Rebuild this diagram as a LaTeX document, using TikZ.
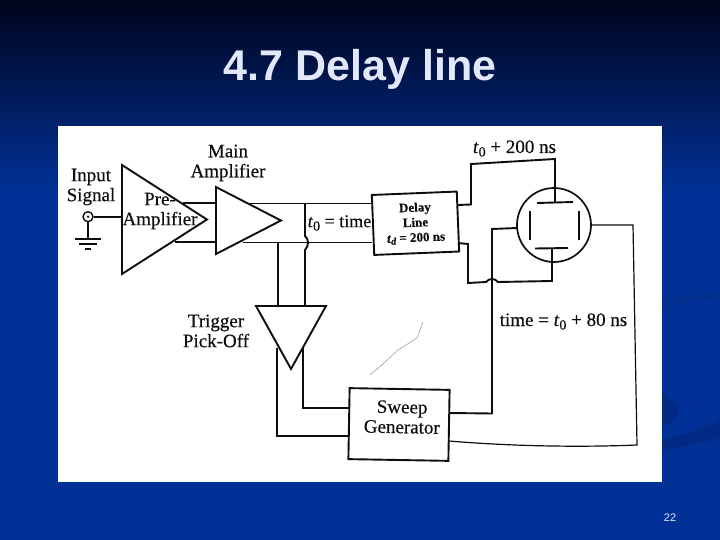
\documentclass[tikz,border=0pt]{standalone}
\usepackage{fontspec}
\setmainfont{Liberation Serif}[FakeBold=0.35]
\setsansfont{Liberation Sans}
\usetikzlibrary{shapes,arrows,positioning,calc}
\definecolor{slideblue}{RGB}{1,49,150}
\definecolor{slidetop}{RGB}{0,4,28}
\definecolor{swoosh}{RGB}{2,42,132}
\definecolor{swooshfaint}{RGB}{2,46,142}
\definecolor{titleink}{RGB}{226,232,250}
\definecolor{ink}{RGB}{14,14,14}
\newcommand{\subzero}{\raisebox{-3.5pt}{\fontsize{14}{14}\selectfont 0}}
\newcommand{\subdee}{\raisebox{-2pt}{\fontsize{10}{10}\selectfont\textit{d}}}
\tikzstyle{wire}=[draw=ink,line width=1.9pt,line join=miter]
\tikzstyle{thinwire}=[draw=ink,line width=1.2pt]
\tikzstyle{amp}=[isosceles triangle,isosceles triangle stretches,draw=ink,line width=1.9pt,inner sep=0pt]
\tikzstyle{blk}=[rectangle,draw=ink,line width=1.9pt,align=center,inner sep=0pt,text=ink]
\tikzstyle{lbl}=[align=center,inner sep=0pt,text=ink,font=\fontsize{19}{20}\selectfont]
\begin{document}
\begin{tikzpicture}[x=1pt,y=-1pt]
\useasboundingbox (0,0) rectangle (720,540);
\shade[top color=slidetop,bottom color=slideblue] (0,0) rectangle (720,190);
\fill[slideblue] (0,190) rectangle (720,540);
\fill[swooshfaint] (662,300) .. controls (680,296) and (700,294) .. (720,293) -- (720,298) .. controls (700,300) and (680,304) .. (662,308) -- cycle;
\fill[swoosh] (662,396) .. controls (672,398) and (680,406) .. (678,414) .. controls (676,420) and (668,425) .. (662,427) -- cycle;
\fill[swoosh] (662,439) .. controls (685,435) and (705,428) .. (720,420) -- (720,438) .. controls (700,443) and (680,447) .. (662,450) -- cycle;
\node[font=\sffamily\bfseries\fontsize{43}{43}\selectfont,text=titleink,inner sep=0pt] (title) at (360,69) {4.7 Delay line};
\node[font=\sffamily\fontsize{11}{11}\selectfont,text=titleink,inner sep=0pt] (pagenum) at (670,518) {22};
\fill[white] (58,126) rectangle (662,482);

\node[amp,minimum width=109pt,minimum height=85pt,anchor=lower side] (pre) at (121,219.5) {};
\node[amp,minimum width=67pt,minimum height=65pt,anchor=lower side] (main) at (215,220.5) {};
\node[amp,shape border rotate=270,minimum width=70pt,minimum height=63pt,anchor=lower side] (trig) at (291,305) {};
\node[blk,rotate=2.3,minimum width=85pt,minimum height=60pt,font=\bfseries\fontsize{13}{15}\selectfont] (delay) at (415.5,223.25) {Delay\\Line\\\textit{t}\subdee\ = 200 ns};
\node[blk,rotate=-1,minimum width=100pt,minimum height=71pt] (sweep) at (399,424.5) {};
\node[circle,draw=ink,line width=1.7pt,minimum size=74pt,inner sep=0pt] (crt) at (554,225) {};
\node[circle,draw=ink,line width=1.4pt,minimum size=10pt,inner sep=0pt] (inp) at (88,216.7) {};
\fill[ink] (inp.center) circle (1.3);

\node[lbl] (inputlbl) at (91,187) {Input\\Signal};
\node[lbl] (prelbl) at (160,211) {Pre-\\Amplifier};
\node[lbl] (mainlbl) at (228,163) {Main\\Amplifier};
\node[lbl,font=\fontsize{18}{19}\selectfont] (timelbl) at (339.5,223) {\textit{t}\subzero\ = time};
\node[lbl] (triglbl) at (216,331) {Trigger\\Pick-Off};
\node[lbl] (t200lbl) at (514.5,148.5) {\textit{t}\subzero\ + 200 ns};
\node[lbl] (t80lbl) at (563.5,321.5) {time = \textit{t}\subzero\ + 80 ns};
\node[lbl,rotate=-1] (sweeplbl) at (402,417) {Sweep\\Generator};

\coordinate (gnd) at (88,239);
\coordinate (pretop) at (183,203);
\coordinate (prebot) at (175,242);
\coordinate (maintop) at (250,203.5);
\coordinate (mainbot) at (243,242.5);
\coordinate (trigleft) at (278,305);
\coordinate (trigright) at (305,305);
\coordinate (trigoutl) at (277,348);
\coordinate (trigoutr) at (303,347);
\coordinate (topa) at (458,205);
\coordinate (topb) at (471,204.5);
\coordinate (topc) at (471,164);
\coordinate (topd) at (555,159);
\coordinate (plateT) at (555,202);
\coordinate (plateB) at (552,248.5);
\coordinate (bota) at (458,243);
\coordinate (botb) at (468,244);
\coordinate (botc) at (468,283);
\coordinate (botd) at (552,281);
\coordinate (swa) at (449,413);
\coordinate (swb) at (492,413.5);
\coordinate (swc) at (449,441);
\coordinate (swd) at (637,445);
\coordinate (swe) at (633,225);
\coordinate (plateL) at (517,228);
\coordinate (plateR) at (591,225);

\path[wire] (inp) -- (inp -| pre.lower side);
\path[wire] (inp) -- (gnd);
\path[wire] ($(gnd)+(-13,0)$) -- ($(gnd)+(13,0)$);
\path[wire] ($(gnd)+(-9,5)$) -- ($(gnd)+(9,5)$);
\path[wire] ($(gnd)+(-3,10)$) -- ($(gnd)+(3,10)$);
\path[wire] (pretop) -- (pretop -| main.lower side);
\path[wire] (prebot) -- (prebot -| main.lower side);
\path[wire] (maintop) -- (maintop -| delay.west);
\path[wire] (mainbot) -- (mainbot -| delay.west);
\path[wire] (trigleft |- mainbot) -- (trigleft);
\path[wire] (trigright |- maintop) -- (305,236) .. controls (309,239) and (309,246) .. (305,250) -- (trigright);
\path[wire] (trigoutl) -- (277,436) -- (349,436);
\path[wire] (trigoutr) -- (303,408) -- (349,408);
\path[wire] (topa) -- (topb) -- (topc) -- (topd) -- (plateT);
\path[wire] (bota) -- (botb) -- (botc) -- (486,282) .. controls (489,278) and (495,278) .. (498,282) -- (botd) -- (plateB);
\path[wire] (swa) -- (swb) -- (492,229) -- (plateL);
\path[thinwire] (swc) .. controls (520,447) and (590,447) .. (swd) -- (swe) -- (plateR);
\path[wire] (537,203) -- (573,202);
\path[wire] (535,248.5) -- (568,248);
\path[wire] (530,211) -- (530,240);
\path[wire] (579,211) -- (579,240);
\draw[gray,line width=0.4pt] (370,375) -- (383,364) -- (398,350) -- (417,338) -- (423,322);
\end{tikzpicture}
\end{document}
